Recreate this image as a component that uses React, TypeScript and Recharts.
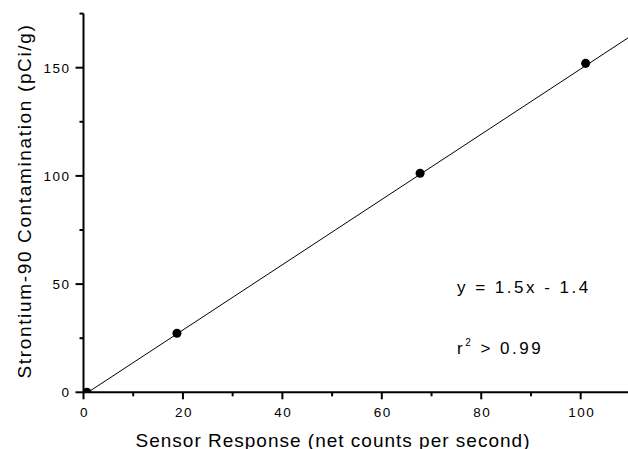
import React from 'react';
import { ScatterChart, Scatter, XAxis, YAxis } from 'recharts';

// Measured points (sensor response vs Sr-90 contamination)
const sensorResponse = [0.7, 18.8, 67.7, 101.0];
const contamination = [0, 27.3, 101.2, 152.0];

// Fit line end points
const fitX = [0.9, 110];
const fitY = [0, 164.5];

const xTicks = [0, 10, 20, 30, 40, 50, 60, 70, 80, 90, 100, 110];
const yTicks = [0, 25, 50, 75, 100, 125, 150, 175];

const points = sensorResponse.map((x, i) => ({ x, y: contamination[i] }));
const fit = fitX.map((x, i) => ({ x, y: fitY[i] }));

const FONT = "'Liberation Sans', Arial, Helvetica, sans-serif";

const XTick = (props: any) => {
  const { x, y, payload } = props;
  const v = payload.value;
  const major = v % 20 === 0;
  return (
    <g>
      <line x1={x} y1={y} x2={x} y2={y + (major ? 7 : 4)} stroke="#000" strokeWidth={2} />
      {major && v <= 100 ? (
        <text x={x + 1} y={y + 25} textAnchor="middle" fontFamily={FONT} fontSize={13.5} letterSpacing={1.5} fill="#000">
          {v}
        </text>
      ) : null}
    </g>
  );
};

const YTick = (props: any) => {
  const { x, y, payload } = props;
  const v = payload.value;
  const major = v % 50 === 0;
  return (
    <g>
      <line x1={x - (major ? 8 : 4)} y1={y} x2={x} y2={y} stroke="#000" strokeWidth={2} />
      {major && v <= 150 ? (
        <text x={x - 13} y={y + 5} textAnchor="end" fontFamily={FONT} fontSize={13.5} letterSpacing={1.5} fill="#000">
          {v}
        </text>
      ) : null}
    </g>
  );
};

const NoShape = () => <g />;

export default function App() {
  return (
    <div style={{ position: 'absolute', left: 0, top: 0, width: 628, height: 449, overflow: 'hidden', background: '#fff' }}>
      <ScatterChart width={640} height={449} margin={{ top: 13.6, right: 9.6, bottom: 0, left: 0 }}>
        <XAxis
          type="number"
          dataKey="x"
          domain={[0, 110]}
          ticks={xTicks}
          interval={0}
          allowDataOverflow
          height={56.7}
          tickSize={0}
          tickMargin={0}
          tickLine={false}
          axisLine={{ stroke: '#000', strokeWidth: 2 }}
          tick={<XTick />}
        />
        <YAxis
          type="number"
          dataKey="y"
          domain={[0, 175]}
          ticks={yTicks}
          interval={0}
          allowDataOverflow
          width={83.5}
          tickSize={0}
          tickMargin={0}
          tickLine={false}
          axisLine={{ stroke: '#000', strokeWidth: 2 }}
          tick={<YTick />}
        />
        <Scatter data={fit} line={{ stroke: '#000', strokeWidth: 1 }} shape={<NoShape />} isAnimationActive={false} />
        <Scatter data={points} fill="#000" shape="circle" isAnimationActive={false} />
      </ScatterChart>
      <svg width={628} height={449} style={{ position: 'absolute', left: 0, top: 0, pointerEvents: 'none' }}>
        <text x={333} y={446.5} textAnchor="middle" fontFamily={FONT} fontSize={19} letterSpacing={1} fill="#000">
          Sensor Response (net counts per second)
        </text>
        <text
          x={31}
          y={201}
          transform="rotate(-90 31 201)"
          textAnchor="middle"
          fontFamily={FONT}
          fontSize={19}
          letterSpacing={1.65}
          fill="#000"
        >
          Strontium-90 Contamination (pCi/g)
        </text>
        <text x={457} y={293.3} fontFamily={FONT} fontSize={17} letterSpacing={2.5} fill="#000">
          y = 1.5x - 1.4
        </text>
        <text x={457} y={354} fontFamily={FONT} fontSize={17} letterSpacing={2.5} fill="#000">
          r<tspan fontSize={10} dy={-8}>2</tspan>
          <tspan dy={8}> &gt; 0.99</tspan>
        </text>
      </svg>
    </div>
  );
}
